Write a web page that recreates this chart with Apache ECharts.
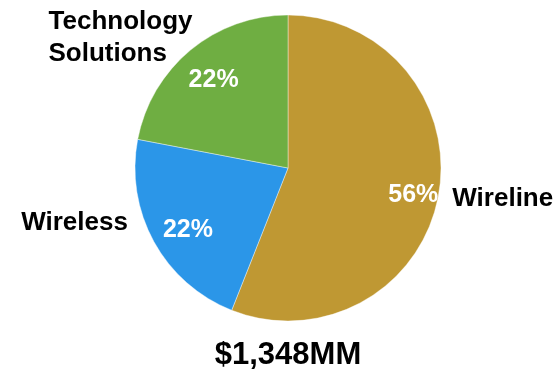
<!DOCTYPE html>
<html>
<head>
<meta charset="utf-8">
<script src="https://cdn.jsdelivr.net/npm/echarts@6/dist/echarts.min.js"></script>
<style>
  html, body { margin: 0; padding: 0; background: #fff; }
  #chart { width: 559px; height: 369px; }
</style>
</head>
<body>
<div id="chart"></div>
<script>
// Segment revenue split
const segments = ['Wireline', 'Wireless', 'Technology\nSolutions'];
const shares = [56, 22, 22];
const sliceColors = ['#BF9833', '#2B96E8', '#6FAE42'];
const totalLabel = '$1,348MM';

const FONT = '"Liberation Sans", Arial, Helvetica, sans-serif';
const PIE_CENTER = [288, 168];

// small nudges for the name labels and percentage labels (px)
const nameNudge = [[9, 2], [-21, -19], [7, -12]];
const pctNudge = [[3, 4], [9, 2], [5, 8]];

const pieData = segments.map((name, i) => ({
  name: name,
  value: shares[i],
  itemStyle: { color: sliceColors[i] }
}));

const chart = echarts.init(document.getElementById('chart'), null, { renderer: 'canvas' });

chart.setOption({
  animation: false,
  backgroundColor: '#ffffff',
  title: {
    text: totalLabel,
    left: PIE_CENTER[0],
    textAlign: 'center',
    top: 340,
    padding: 0,
    textStyle: { fontFamily: FONT, fontSize: 31, fontWeight: 'bold', color: '#000' }
  },
  series: [
    {
      type: 'pie',
      center: PIE_CENTER,
      radius: [0, 153],
      startAngle: 90,
      clockwise: true,
      avoidLabelOverlap: false,
      silent: true,
      itemStyle: { borderColor: '#ffffff', borderWidth: 0.4 },
      label: {
        show: true,
        position: 'outside',
        alignTo: 'none',
        distanceToLabelLine: 5,
        formatter: p => p.name.split('\n').map(s => '{n|' + s + '}').join('\n'),
        rich: {
          n: { fontFamily: FONT, fontSize: 26, fontWeight: 'bold', color: '#000', align: 'left', lineHeight: 32 }
        }
      },
      labelLine: { show: false, length: 0, length2: 0 },
      labelLayout: p => ({ dx: nameNudge[p.dataIndex][0], dy: nameNudge[p.dataIndex][1] }),
      data: pieData
    },
    {
      type: 'pie',
      center: PIE_CENTER,
      radius: [90, 153],
      startAngle: 90,
      clockwise: true,
      avoidLabelOverlap: false,
      silent: true,
      itemStyle: { color: 'rgba(0,0,0,0)' },
      label: {
        show: true,
        position: 'inside',
        formatter: p => p.value + '%',
        fontFamily: FONT,
        fontSize: 25,
        fontWeight: 'bold',
        color: '#ffffff'
      },
      labelLine: { show: false },
      labelLayout: p => ({ dx: pctNudge[p.dataIndex][0], dy: pctNudge[p.dataIndex][1] }),
      data: segments.map((name, i) => ({ name: name, value: shares[i] }))
    }
  ]
});
</script>
</body>
</html>
